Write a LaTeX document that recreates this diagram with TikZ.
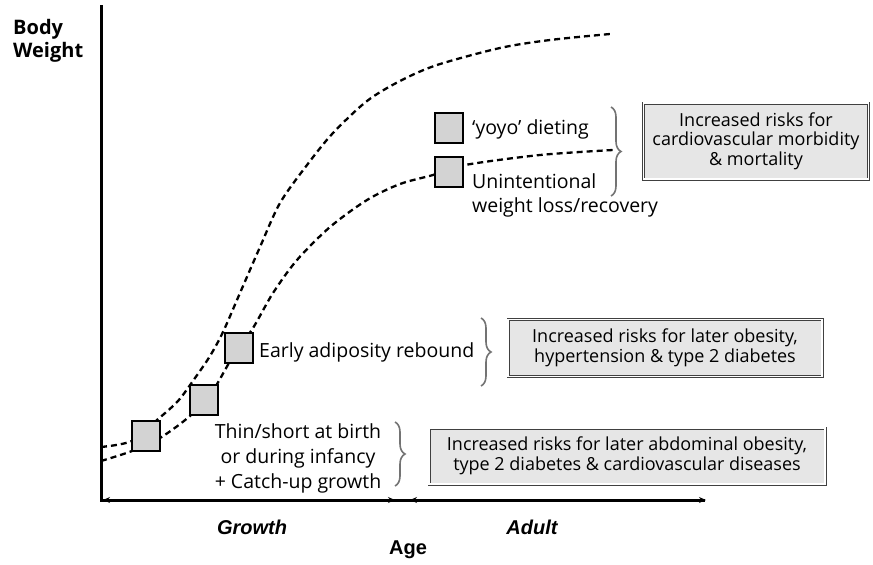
\documentclass[tikz,border=0pt]{standalone}
\usepackage{fontspec}
\setmainfont{Open Sans}
\newfontfamily\axisfont{Liberation Sans}
\usetikzlibrary{decorations.pathreplacing,arrows.meta}
\definecolor{sqfill}{HTML}{D3D3D3}
\definecolor{boxfill}{HTML}{E6E6E6}
\tikzset{
  sq/.style={draw=black, line width=2.4pt, fill=sqfill, minimum width=28pt, minimum height=30pt, inner sep=0pt},
  curve/.style={line width=2.3pt, dash pattern=on 6pt off 4pt},
  lbl/.style={font=\fontsize{19.5}{24}\selectfont, inner sep=0pt},
  riskbox/.style={draw=black!75, line width=0.8pt, double=white, double distance=1.4pt, fill=boxfill, align=center, font=\fontsize{18}{19.5}\selectfont, inner sep=0pt},
  brc/.style={draw=black!55, line width=1.6pt, decorate, decoration={brace, amplitude=10pt}},
  axlbl/.style={font=\axisfont\bfseries\itshape\fontsize{20}{22}\selectfont, inner sep=0pt},
  tip/.style={-{Stealth[length=7pt,width=6pt]}}
}
\begin{document}
\begin{tikzpicture}[x=1pt,y=-1pt]
\useasboundingbox (0,0) rectangle (873,565);
% axes
\coordinate (ytop) at (101,5);
\coordinate (orig) at (101,500);
\coordinate (xend) at (705,500);
\draw[line width=3pt] (ytop) -- (orig) -- (xend);
\coordinate (g1) at (103,500);
\coordinate (g2) at (395,500);
\coordinate (a1) at (410,500);
\coordinate (a2) at (706,500);
\draw[tip, line width=1.5pt] (250,500) -- (g1);
\draw[tip, line width=1.5pt] (250,500) -- (g2);
\draw[tip, line width=1.5pt] (560,500) -- (a1);
\draw[tip, line width=1.5pt] (560,500) -- (a2);
% curves
\draw[curve] plot[smooth, tension=0.5] coordinates {(101,447) (132,441) (157,420) (178,401) (195,378) (210,356) (223,332) (240,293) (260,247) (280,203) (307,165) (333,133) (367,101) (400,81) (437,65) (500,48) (550,40) (610,34)};
\draw[curve] plot[smooth, tension=0.5] coordinates {(101,461) (132,451) (160,438) (190,416) (212,392) (232,358) (253,328) (273,293) (297,260) (330,227) (367,200) (400,184) (433,175) (465,165) (540,155) (613,150)};
% squares
\node[sq] (s1) at (146,436) {};
\node[sq] (s2) at (204,400) {};
\node[sq] (s3) at (239,348) {};
\node[sq] (s4) at (449,128) {};
\node[sq] (s5) at (449,172) {};
% labels
\node[lbl, anchor=west] (yoyo) at (472,129) {`yoyo' dieting};
\node[lbl, anchor=north west, align=left] (unint) at (472,173) {Unintentional\\weight loss/recovery};
\node[lbl, anchor=west] (early) at (259,352) {Early adiposity rebound};
\node[lbl, align=center, font=\fontsize{19.5}{25}\selectfont] (thin) at (298,458) {Thin/short at birth\\or during infancy\\+ Catch-up growth};
% boxes
\node[riskbox, minimum width=225pt, minimum height=76pt] (b1) at (756,141) {Increased risks for\\cardiovascular morbidity\\\& mortality};
\node[riskbox, minimum width=314pt, minimum height=57pt] (b2) at (665,348) {Increased risks for later obesity,\\hypertension \& type 2 diabetes};
\node[riskbox, minimum width=396pt, minimum height=56pt] (b3) at (627,456) {Increased risks for later abdominal obesity,\\type 2 diabetes \& cardiovascular diseases};
% braces
\coordinate (br1t) at (611,107);
\coordinate (br1b) at (611,196);
\draw[brc] (br1t) -- (br1b);
\coordinate (br2t) at (481,318);
\coordinate (br2b) at (481,386);
\draw[brc] (br2t) -- (br2b);
\coordinate (br3t) at (395,422);
\coordinate (br3b) at (395,486);
\draw[brc] (br3t) -- (br3b);
% axis labels
\node[font=\fontsize{20}{23}\selectfont\bfseries, align=left, anchor=north west, inner sep=0pt] (bw) at (13,19) {Body\\Weight};
\node[axlbl] (growth) at (252,527) {Growth};
\node[axlbl] (adult) at (532,527) {Adult};
\node[axlbl, font=\axisfont\bfseries\fontsize{20}{22}\selectfont] (age) at (408,550) {Age};
\end{tikzpicture}
\end{document}
